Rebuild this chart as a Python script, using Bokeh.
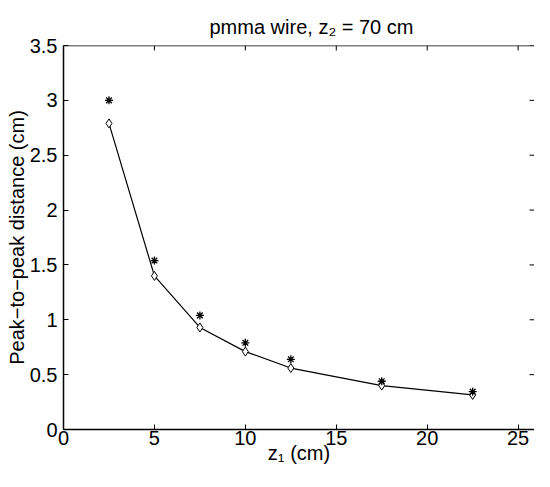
import math
from bokeh.plotting import figure
from bokeh.models import Range1d, FixedTicker, Span
from bokeh.embed import file_html
from bokeh.resources import INLINE

# data
z1 = [2.5, 5.0, 7.5, 10.0, 12.5, 17.5, 22.5]
diamond_vals = [2.79, 1.40, 0.93, 0.71, 0.56, 0.40, 0.315]
star_vals = [3.00, 1.54, 1.04, 0.79, 0.64, 0.44, 0.345]
x_ticks = [0, 5, 10, 15, 20, 25]
y_ticks = [0, 0.5, 1, 1.5, 2, 2.5, 3, 3.5]
x_max = 25.9
y_max = 3.5

FONT = "Liberation Sans"
FS = "20px"

p = figure(width=534, height=471, output_backend="svg", toolbar_location=None,
           x_range=Range1d(0, x_max), y_range=Range1d(0, y_max),
           min_border_left=63, min_border_top=45, min_border_bottom=42,
           min_border_right=0,
           title="pmma wire, z\u2082 = 70 cm")
p.title.align = "left"
p.title.text_font = FONT
p.title.text_font_size = FS
p.title.text_font_style = "normal"
p.title.text_color = "#000000"
p.title.offset = 146
p.title.standoff = 15

p.grid.visible = False
p.outline_line_color = None

for ax in [p.xaxis[0], p.yaxis[0]]:
    ax.major_label_text_font = FONT
    ax.major_label_text_font_size = FS
    ax.major_label_text_color = "#000000"
    ax.axis_label_text_font = FONT
    ax.axis_label_text_font_size = FS
    ax.axis_label_text_font_style = "normal"
    ax.axis_label_text_color = "#000000"
    ax.axis_line_color = "#000000"
    ax.axis_line_width = 1.5
    ax.major_tick_line_color = "#000000"
    ax.major_tick_in = 5
    ax.major_tick_out = 0
    ax.minor_tick_line_color = None

p.xaxis[0].ticker = FixedTicker(ticks=x_ticks)
p.yaxis[0].ticker = FixedTicker(ticks=y_ticks)
p.xaxis[0].axis_label = "z\u2081 (cm)"
p.yaxis[0].axis_label = "Peak\u2212to\u2212peak distance (cm)"
p.xaxis[0].major_label_standoff = 1
p.xaxis[0].axis_label_standoff = -6
p.yaxis[0].major_label_standoff = 6
p.yaxis[0].axis_label_standoff = -1

# top frame line and inward ticks on top/right edges
p.add_layout(Span(location=y_max, dimension="width", line_color="#000000", line_width=1.5))
p.ray(x=x_ticks, y=[y_max] * len(x_ticks), length=5, length_units="screen",
      angle=-math.pi / 2, line_color="#000000", line_width=1)
p.ray(x=[x_max] * len(y_ticks), y=y_ticks, length=5, length_units="screen",
      angle=math.pi, line_color="#000000", line_width=1)

p.line(z1, diamond_vals, line_color="#000000", line_width=1.2)
p.scatter(z1, diamond_vals, marker="diamond", size=9, fill_color="white",
          line_color="#000000", line_width=1)
p.scatter(z1, star_vals, marker="asterisk", size=8, line_color="#000000", line_width=1.3)

open("out.html", "w").write(file_html(p, INLINE))
